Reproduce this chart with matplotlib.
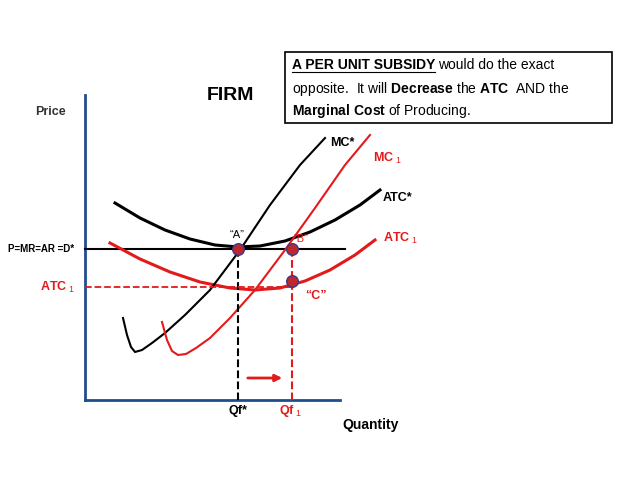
import matplotlib
matplotlib.use("Agg")
import matplotlib.pyplot as plt
plt.rcParams['font.family']='Liberation Sans'
plt.rcParams['mathtext.fontset']='custom'
plt.rcParams['mathtext.rm']='Liberation Sans'
plt.rcParams['mathtext.bf']='Liberation Sans:bold'

# curve points (pixel coordinates)
atc_star_x = [115,140,165,190,215,238,260,285,310,335,360,380]
atc_star_y = [203,218,230,239,245,247,246,241,232,220,205,190]
atc1_x = [110,140,170,200,230,255,280,305,330,355,375]
atc1_y = [243,259,272,282,288,290,288,281,270,255,240]
mc_star_x = [123,127,131,135,142,152,165,185,210,240,270,300,325]
mc_star_y = [318,335,347,352,350,343,333,315,290,250,205,165,138]
mc1_x = [162,167,172,178,186,196,210,230,255,285,315,345,370]
mc1_y = [322,340,351,355,354,348,338,318,290,250,208,165,135]
pts_x = [238,292,292]
pts_y = [249,249,281]

fig = plt.figure(figsize=(6.38,4.79), dpi=100)
ax = fig.add_axes([0,0,1,1]); ax.set_xlim(0,638); ax.set_ylim(479,0); ax.axis('off')
R='#e31a1c'
ax.plot([85,85],[95,400],color='#1f4e8c',lw=2)
ax.plot([85,340],[400,400],color='#1f4e8c',lw=2)
ax.plot([85,345],[249,249],'k',lw=1.5)
ax.plot(atc_star_x,atc_star_y,'k',lw=2.2)
ax.plot(atc1_x,atc1_y,color=R,lw=2.2)
ax.plot(mc_star_x,mc_star_y,'k',lw=1.5)
ax.plot(mc1_x,mc1_y,color=R,lw=1.5)
ax.plot([238,238],[249,400],'k--',lw=1.5)
ax.plot([292,292],[249,400],'--',color=R,lw=1.5)
ax.plot([85,292],[287,287],'--',color=R,lw=1.3)
ax.annotate('',xy=(285,378),xytext=(245,378),arrowprops=dict(arrowstyle='-|>',color=R,lw=2))
ax.scatter(pts_x,pts_y,s=70,color='#c0272d',edgecolor='#3a3a8a',zorder=5)
kw=dict(fontsize=9,fontweight='bold')
ax.text(35,112,'Price',ha='left',va='center',color='#333',**kw)
ax.text(230,95,'FIRM',fontsize=14,fontweight='bold',ha='center',va='center')
ax.text(330,143,'MC*',va='center',**kw)
ax.text(373,158,'MC$_{\\ 1}$',va='center',color=R,**kw)
ax.text(383,198,'ATC*',va='center',**kw)
ax.text(383,238,'ATC$_{\\ 1}$',va='center',color=R,**kw)
ax.text(237,235,'“A”',ha='center',va='center',fontsize=8)
ax.text(301,239,'“B”',ha='center',va='center',fontsize=8,color=R)
ax.text(305,296,'“C”',va='center',color=R,**kw)
ax.text(8,249,'P=MR=AR =D*',va='center',fontsize=7,fontweight='bold')
ax.text(40,287,'ATC$_{\\ 1}$',va='center',color=R,**kw)
ax.text(238,411,'Qf*',ha='center',va='center',**kw)
ax.text(291,411,'Qf$_{\\ 1}$',ha='center',va='center',color=R,**kw)
ax.text(342,425,'Quantity',va='center',fontsize=10,fontweight='bold')
ax.add_patch(plt.Rectangle((285,52),327,71,fill=False,lw=1.2,ec='k'))
fs=10
t=ax.text(292,58,'A PER UNIT SUBSIDY',va='top',fontsize=fs,fontweight='bold')
fig.canvas.draw()
bb=t.get_window_extent()
x1=292+bb.width
ax.plot([292,x1],[72,72],'k',lw=0.8)
ax.text(x1+3,58,'would do the exact',va='top',fontsize=fs)
ax.text(292,80,'opposite.  It will $\\bf{Decrease}$ the $\\bf{ATC}$  AND the',va='top',fontsize=fs)
ax.text(292,102,'$\\bf{Marginal\\ Cost}$ of Producing.',va='top',fontsize=fs)
fig.savefig('out.png',dpi=100)
